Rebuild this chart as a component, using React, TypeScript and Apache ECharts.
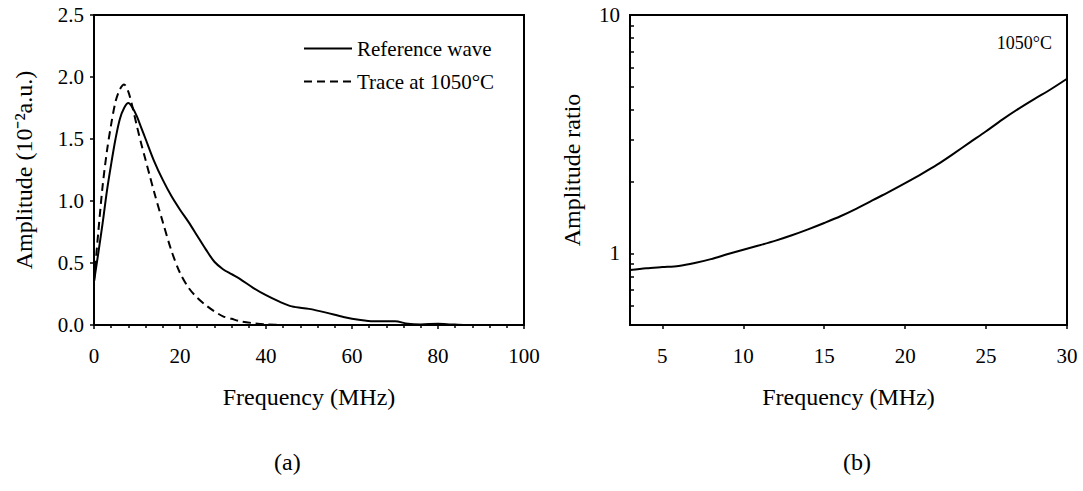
import React, { useEffect, useRef } from "react";
import * as echarts from "echarts";

// Panel (a): amplitude spectra
const freqRef = [0, 1, 2, 3, 4, 5, 6, 7, 8, 9, 10, 11, 12, 14, 16, 18, 20, 22, 24, 26, 28, 30, 32, 34, 37, 40, 43, 46, 50, 54, 58, 62, 65, 70, 73, 76, 80, 83, 86, 100];
const ampRef = [0.35, 0.58, 0.82, 1.08, 1.3, 1.5, 1.66, 1.75, 1.79, 1.75, 1.68, 1.59, 1.5, 1.32, 1.17, 1.04, 0.93, 0.83, 0.72, 0.61, 0.51, 0.45, 0.41, 0.37, 0.3, 0.24, 0.19, 0.15, 0.13, 0.1, 0.065, 0.04, 0.03, 0.03, 0.01, 0.005, 0.01, 0.005, 0, 0];
const freqTrace = [0, 1, 2, 3, 4, 5, 6, 7, 8, 9, 10, 11, 12, 13, 14, 16, 18, 20, 22, 24, 26, 28, 30, 32, 34, 37, 40, 45];
const ampTrace = [0.35, 0.75, 1.12, 1.4, 1.62, 1.8, 1.9, 1.94, 1.88, 1.75, 1.6, 1.46, 1.33, 1.2, 1.07, 0.83, 0.6, 0.42, 0.3, 0.22, 0.16, 0.11, 0.07, 0.05, 0.03, 0.015, 0.005, 0];

// Panel (b): amplitude ratio
const freqRatio = [3, 4, 5, 6, 7, 8, 9, 10, 11, 12, 13, 14, 15, 16, 17, 18, 19, 20, 21, 22, 23, 24, 25, 26, 27, 28, 29, 30];
const ampRatio = [0.85, 0.865, 0.875, 0.885, 0.91, 0.945, 0.99, 1.035, 1.08, 1.13, 1.19, 1.26, 1.34, 1.43, 1.54, 1.67, 1.81, 1.97, 2.15, 2.36, 2.62, 2.92, 3.25, 3.64, 4.04, 4.45, 4.88, 5.4];

const xLabelsB = [5, 10, 15, 20, 25, 30];
const yLabelsB = [1, 10];
const yTicksB = [0.6, 0.7, 0.8, 0.9, 1, 2, 3, 4, 5, 6, 7, 8, 9, 10];

const seriesNames = ["Reference wave", "Trace at 1050°C"];

const FONT = "'Liberation Serif', 'Times New Roman', serif";

export default function App() {
  const ref = useRef<HTMLDivElement>(null);
  useEffect(() => {
    if (!ref.current) return;
    const chart = echarts.init(ref.current, null, { renderer: "svg" });
    const axisLine = { show: true, lineStyle: { color: "#000", width: 2 } };
    const label = { color: "#000", fontFamily: FONT, fontSize: 21 };
    const nameStyle = { color: "#000", fontFamily: FONT, fontSize: 24 };
    chart.setOption({
      animation: false,
      backgroundColor: "#fff",
      textStyle: { fontFamily: FONT, color: "#000" },
      grid: [
        { left: 94, top: 15, width: 430, height: 310, show: true, borderColor: "#000", borderWidth: 2, containLabel: false },
        { left: 630, top: 15, width: 437, height: 310, show: true, borderColor: "#000", borderWidth: 2, containLabel: false },
      ],
      legend: {
        data: seriesNames,
        orient: "vertical",
        left: 298,
        top: 33,
        itemWidth: 48,
        itemHeight: 18,
        itemGap: 12,
        itemStyle: { opacity: 0, borderWidth: 0 },
        textStyle: { color: "#000", fontFamily: FONT, fontSize: 21, lineHeight: 18 },
      },
      xAxis: [
        {
          type: "value",
          gridIndex: 0,
          min: 0,
          max: 100,
          interval: 20,
          axisLine,
          axisTick: { show: true, inside: false, length: 4, lineStyle: { color: "#000", width: 1.5 } },
          minorTick: { show: true, splitNumber: 5, length: 3, lineStyle: { color: "#000", width: 1.5 } },
          splitLine: { show: false },
          axisLabel: { ...label, margin: 20 },
          name: "Frequency (MHz)",
          nameLocation: "middle",
          nameGap: 60,
          nameTextStyle: nameStyle,
        },
        {
          type: "value",
          gridIndex: 1,
          min: 3,
          max: 30,
          axisLine,
          axisTick: { show: true, inside: false, length: 4, customValues: xLabelsB, lineStyle: { color: "#000", width: 1.5 } },
          splitLine: { show: false },
          axisLabel: { ...label, margin: 20, customValues: xLabelsB },
          name: "Frequency (MHz)",
          nameLocation: "middle",
          nameGap: 60,
          nameTextStyle: nameStyle,
        },
      ],
      yAxis: [
        {
          type: "value",
          gridIndex: 0,
          min: 0,
          max: 2.5,
          interval: 0.5,
          axisLine,
          axisTick: { show: true, inside: false, length: 4, lineStyle: { color: "#000", width: 1.5 } },
          splitLine: { show: false },
          axisLabel: { ...label, margin: 10, formatter: (v: number) => v.toFixed(1) },
          name: "Amplitude (10⁻²a.u.)",
          nameLocation: "middle",
          nameGap: 58,
          nameTextStyle: nameStyle,
        },
        {
          type: "log",
          logBase: 10,
          gridIndex: 1,
          min: 0.5,
          max: 10,
          axisLine,
          axisTick: { show: true, inside: true, length: 4, customValues: yTicksB, lineStyle: { color: "#000", width: 1.5 } },
          splitLine: { show: false },
          axisLabel: { ...label, margin: 10, customValues: yLabelsB },
          name: "Amplitude ratio",
          nameLocation: "middle",
          nameGap: 46,
          nameTextStyle: nameStyle,
        },
      ],
      series: [
        {
          name: seriesNames[0],
          type: "line",
          xAxisIndex: 0,
          yAxisIndex: 0,
          data: freqRef.map((f, i) => [f, ampRef[i]]),
          showSymbol: false,
          symbol: "none",
          smooth: 0.3,
          lineStyle: { color: "#000", width: 2, type: "solid" },
          itemStyle: { color: "#000" },
        },
        {
          name: seriesNames[1],
          type: "line",
          xAxisIndex: 0,
          yAxisIndex: 0,
          data: freqTrace.map((f, i) => [f, ampTrace[i]]),
          showSymbol: false,
          symbol: "none",
          smooth: 0.3,
          lineStyle: { color: "#000", width: 2, type: [8, 5] },
          itemStyle: { color: "#000" },
        },
        {
          name: "Amplitude ratio",
          type: "line",
          xAxisIndex: 1,
          yAxisIndex: 1,
          data: freqRatio.map((f, i) => [f, ampRatio[i]]),
          showSymbol: false,
          symbol: "none",
          smooth: 0.3,
          lineStyle: { color: "#000", width: 2 },
          itemStyle: { color: "#000" },
        },
      ],
      graphic: [
        { type: "text", right: 1083 - 1052, top: 34, style: { text: "1050°C", fill: "#000", font: `18px ${FONT}`, textAlign: "right" } },
        { type: "text", left: 274, top: 450, style: { text: "(a)", fill: "#000", font: `24px ${FONT}`, textAlign: "center" } },
        { type: "text", left: 843, top: 450, style: { text: "(b)", fill: "#000", font: `24px ${FONT}`, textAlign: "center" } },
      ],
    });
    return () => chart.dispose();
  }, []);
  return <div ref={ref} style={{ position: "absolute", left: 0, top: 0, width: 1083, height: 491 }} />;
}
